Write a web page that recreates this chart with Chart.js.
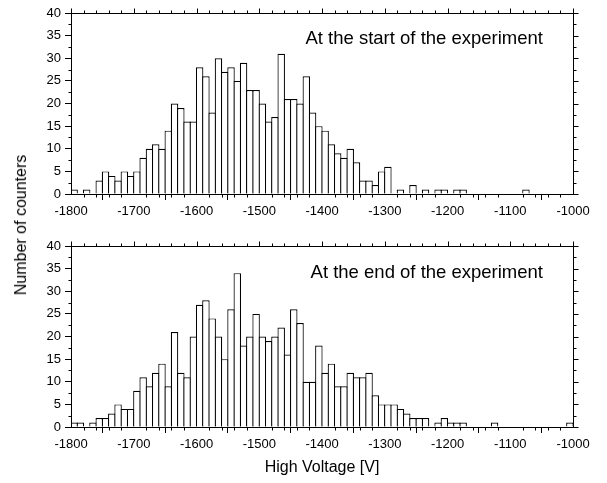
<!DOCTYPE html>
<html lang="en">
<head>
<meta charset="UTF-8">
<title>Counters vs high voltage</title>
<script src="https://cdn.jsdelivr.net/npm/chart.js"></script>
<style>
  body { margin: 0; background: #fff; }
  #wrap { position: relative; width: 607px; height: 483px; font-family: "Liberation Sans", Arial, sans-serif; }
  canvas { position: absolute; left: 0; }
  #ytitle { position: absolute; left: 21px; top: 225px; transform: translate(-50%, -50%) rotate(-90deg); font-size: 16px; white-space: nowrap; color: #000; }
</style>
</head>
<body>
<div id="wrap">
  <canvas id="startChart" width="607" height="232" style="top:0"></canvas>
  <canvas id="endChart" width="607" height="251" style="top:232px"></canvas>
  <div id="ytitle">Number of counters</div>
</div>
<script>
// bin centres, 10 V wide bins
const binCenters = [
  -1795, -1785, -1775, -1765, -1755, -1745, -1735, -1725, -1715, -1705,
  -1695, -1685, -1675, -1665, -1655, -1645, -1635, -1625, -1615, -1605,
  -1595, -1585, -1575, -1565, -1555, -1545, -1535, -1525, -1515, -1505,
  -1495, -1485, -1475, -1465, -1455, -1445, -1435, -1425, -1415, -1405,
  -1395, -1385, -1375, -1365, -1355, -1345, -1335, -1325, -1315, -1305,
  -1295, -1285, -1275, -1265, -1255, -1245, -1235, -1225, -1215, -1205,
  -1195, -1185, -1175, -1165, -1155, -1145, -1135, -1125, -1115, -1105,
  -1095, -1085, -1075, -1065, -1055, -1045, -1035, -1025, -1015, -1005
];

const startCounts = [
  1, 0, 1, 0, 3, 5, 4, 3, 5, 4,
  5, 8, 10, 11, 10, 14, 20, 19, 16, 16,
  28, 26, 18, 30, 27, 28, 25, 29, 23, 23,
  20, 16, 17, 31, 21, 21, 20, 26, 18, 15,
  14, 11, 9, 8, 10, 7, 3, 3, 2, 5,
  6, 0, 1, 0, 2, 0, 1, 0, 1, 1,
  0, 1, 1, 0, 0, 0, 0, 0, 0, 0,
  0, 0, 1, 0, 0, 0, 0, 0, 0, 0
];

const endCounts = [
  1, 1, 0, 1, 2, 2, 3, 5, 4, 4,
  8, 11, 9, 12, 14, 9, 21, 12, 11, 20,
  27, 28, 24, 20, 15, 26, 34, 18, 20, 25,
  20, 19, 20, 22, 16, 26, 23, 10, 10, 18,
  12, 14, 9, 9, 12, 11, 11, 12, 7, 5,
  5, 5, 4, 3, 2, 2, 2, 0, 1, 2,
  1, 1, 1, 0, 0, 0, 0, 1, 0, 0,
  0, 0, 0, 0, 0, 0, 0, 0, 0, 1
];

const xTicks = [-1800, -1700, -1600, -1500, -1400, -1300, -1200, -1100, -1000];
const yTicks = [0, 5, 10, 15, 20, 25, 30, 35, 40];
const xMinorStep = 20;
const yMinorStep = 2.5;

const FONT = '"Liberation Sans", Arial, sans-serif';

// frame, minor ticks, mirrored ticks and the panel caption
const framePlugin = {
  id: 'frame',
  afterDatasetsDraw(chart, args, opts) {
    const { ctx, chartArea: a, scales: { x, y } } = chart;
    const L = Math.round(a.left) + 0.5, R = Math.round(a.right) + 0.5;
    const T = Math.round(a.top) + 0.5, B = Math.round(a.bottom) + 0.5;
    ctx.save();
    ctx.strokeStyle = '#000';
    ctx.lineWidth = 1;
    ctx.strokeRect(L, T, R - L, B - T);
    ctx.beginPath();
    for (let v = x.min; v <= x.max; v += xMinorStep) {
      const px = Math.round(x.getPixelForValue(v)) + 0.5;
      const major = xTicks.includes(v);
      if (!major) { ctx.moveTo(px, B); ctx.lineTo(px, B + 3); }
      ctx.moveTo(px, T); ctx.lineTo(px, T - (major ? 5 : 3));
    }
    for (let v = y.min; v <= y.max; v += yMinorStep) {
      const py = Math.round(y.getPixelForValue(v)) + 0.5;
      const major = yTicks.includes(v);
      if (!major) { ctx.moveTo(L, py); ctx.lineTo(L - 3, py); }
      ctx.moveTo(R, py); ctx.lineTo(R + (major ? 5 : 3), py);
    }
    ctx.stroke();
    ctx.fillStyle = '#000';
    ctx.font = '18.5px ' + FONT;
    ctx.textAlign = 'right';
    ctx.textBaseline = 'alphabetic';
    ctx.fillText(opts.text, a.right - 30, a.top + opts.dy);
    ctx.restore();
  }
};

function makeChart(id, counts, caption, captionDy, topPad, xHeight, showTitle) {
  return new Chart(document.getElementById(id), {
    type: 'bar',
    data: {
      datasets: [{
        data: binCenters.map((c, i) => ({ x: c, y: counts[i] })),
        backgroundColor: '#fff',
        borderColor: '#000',
        borderWidth: 1.2,
        borderSkipped: 'start',
        barPercentage: 1.19,
        categoryPercentage: 1
      }]
    },
    options: {
      responsive: false,
      animation: false,
      devicePixelRatio: 1,
      layout: { padding: { top: topPad, right: 34, bottom: 0, left: 0 } },
      plugins: {
        legend: { display: false },
        tooltip: { enabled: false },
        frame: { text: caption, dy: captionDy }
      },
      scales: {
        x: {
          type: 'linear',
          min: -1800,
          max: -1000,
          offset: false,
          afterBuildTicks: s => { s.ticks = xTicks.map(v => ({ value: v })); },
          afterFit: s => { s.height = xHeight; },
          grid: { drawOnChartArea: false, tickLength: 6, color: '#000', tickColor: '#000' },
          border: { display: false },
          ticks: {
            padding: 4,
            maxRotation: 0,
            color: '#000',
            font: { family: FONT, size: 13 },
            callback: v => String(v)
          },
          title: {
            display: showTitle,
            text: 'High Voltage [V]',
            color: '#000',
            font: { family: FONT, size: 16 },
            padding: { top: 0, bottom: 6 }
          }
        },
        y: {
          min: 0,
          max: 40,
          afterBuildTicks: s => { s.ticks = yTicks.map(v => ({ value: v })); },
          afterFit: s => { s.width = 71; },
          grid: { drawOnChartArea: false, tickLength: 6, color: '#000', tickColor: '#000' },
          border: { display: false },
          ticks: {
            padding: 4,
            color: '#000',
            font: { family: FONT, size: 13 },
            callback: v => String(v)
          }
        }
      }
    },
    plugins: [framePlugin]
  });
}

makeChart('startChart', startCounts, 'At the start of the experiment', 31, 13, 38, false);
makeChart('endChart', endCounts, 'At the end of the experiment', 32, 14, 56, true);
</script>
</body>
</html>
